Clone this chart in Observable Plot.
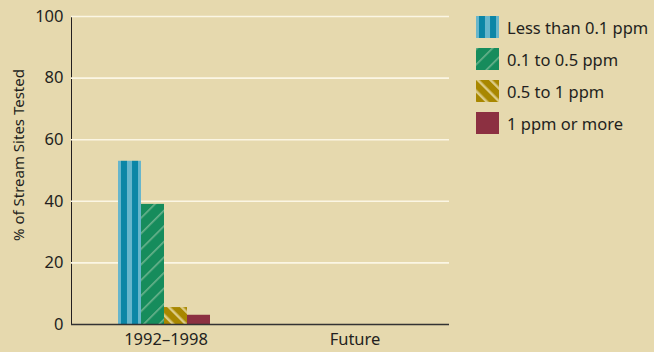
<!DOCTYPE html>
<html><head><meta charset="utf-8">
<script src="https://cdn.jsdelivr.net/npm/d3@7"></script>
<script src="https://cdn.jsdelivr.net/npm/@observablehq/plot@0.6"></script>
<style>
body{margin:0;background:#e6d9ae;}
#chart{position:relative;width:654px;height:352px;font-family:"Noto Sans",sans-serif;color:#231f20;}
#ylabel{position:absolute;left:18px;top:155px;transform:translate(-50%,-50%) rotate(-90deg);white-space:nowrap;font-size:15px;}
#legend{position:absolute;left:476px;top:16px;}
.row{display:flex;align-items:center;height:22px;margin-bottom:10px;font-size:16.5px;white-space:nowrap;}
.row svg{margin-right:8px;flex:none;}
</style>
</head><body>
<svg width="0" height="0" style="position:absolute">
<defs>
<pattern id="pBlue" patternUnits="objectBoundingBox" patternContentUnits="objectBoundingBox" width="1" height="1">
<rect width="1" height="1" fill="#67b6cc"/><rect x="0.13" width="0.26" height="1" fill="#0b86a6"/><rect x="0.61" width="0.26" height="1" fill="#0b86a6"/>
</pattern>
<pattern id="pGreen" patternUnits="userSpaceOnUse" width="11" height="11" patternTransform="rotate(45)">
<rect width="11" height="11" fill="#168c5c"/><rect width="1.6" height="11" fill="#6bb38d"/>
</pattern>
<pattern id="pGold" patternUnits="userSpaceOnUse" width="9" height="9" patternTransform="rotate(-45)">
<rect width="9" height="9" fill="#a88700"/><rect width="2.5" height="9" fill="#dccb86"/>
</pattern>
</defs>
</svg>
<div id="chart"><div id="ylabel">% of Stream Sites Tested</div><div id="legend"></div></div>
<script>
const periods = ["1992–1998", "Future"];
const seriesNames = ["Less than 0.1 ppm", "0.1 to 0.5 ppm", "0.5 to 1 ppm", "1 ppm or more"];
const values1992 = [53, 39, 5.5, 3];
const valuesFuture = [null, null, null, null];
const yTicks = [0, 20, 40, 60, 80, 100];
const seriesFills = ["url(#pBlue)", "url(#pGreen)", "url(#pGold)", "#8c3041"];

const data = [
  ...seriesNames.map((s, i) => ({period: periods[0], series: s, value: values1992[i]})),
  ...seriesNames.map((s, i) => ({period: periods[1], series: s, value: valuesFuture[i]}))
];

const chart = Plot.plot({
  width: 654, height: 352,
  marginLeft: 71, marginRight: 205, marginTop: 16, marginBottom: 28,
  style: {background: "transparent", fontFamily: "Noto Sans", fontSize: "16.5px", color: "#231f20", overflow: "visible"},
  fx: {domain: periods, padding: 0, label: null, tickSize: 0, tickPadding: 9, axis: "bottom"},
  x: {domain: seriesNames, paddingInner: 0, paddingOuter: 2.05, align: 0.48, axis: null},
  y: {domain: [0, 100], ticks: yTicks, label: null, tickSize: 0, tickPadding: 8, line: true},
  color: {domain: seriesNames, range: seriesFills},
  marks: [
    Plot.ruleY(yTicks.filter(d => d > 0), {stroke: "#fbf6e4", strokeWidth: 1.6}),
    Plot.barY(data, {fx: "period", x: "series", y: "value", fill: "series"}),
    Plot.ruleY([0], {stroke: "#333", strokeWidth: 1.6})
  ]
});
document.getElementById("chart").appendChild(chart);
chart.style.position = "absolute";
chart.style.left = "0";
chart.style.top = "0";

const legend = document.getElementById("legend");
seriesNames.forEach((s, i) => {
  const row = document.createElement("div");
  row.className = "row";
  row.innerHTML = `<svg width="23" height="22"><rect width="23" height="22" fill="${seriesFills[i]}"/></svg><span>${s}</span>`;
  legend.appendChild(row);
});
</script>
</body></html>
